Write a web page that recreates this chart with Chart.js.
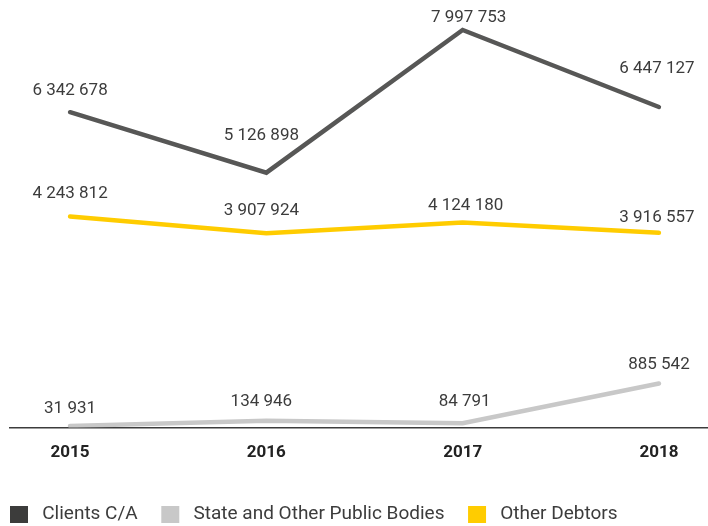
<!DOCTYPE html>
<html>
<head>
<meta charset="utf-8">
<script src="https://cdn.jsdelivr.net/npm/chart.js@4"></script>
<style>
  html, body { margin: 0; padding: 0; background: #fff; }
  #wrap { width: 708px; height: 526px; }
</style>
</head>
<body>
<div id="wrap"><canvas id="debtorsChart"></canvas></div>
<script>
const years = [2015, 2016, 2017, 2018];
const clientsCA = [6342678, 5126898, 7997753, 6447127];
const publicBodies = [31931, 134946, 84791, 885542];
const otherDebtors = [4243812, 3907924, 4124180, 3916557];

const fmt = (v) => String(v).replace(/\B(?=(\d{3})+(?!\d))/g, ' ');
const toPoints = (values) => values.map((v, i) => ({ x: years[i], y: v }));

// draws the value above each point
const valueLabels = {
    id: 'valueLabels',
    afterDatasetsDraw(chart) {
        const ctx = chart.ctx;
        ctx.save();
        ctx.font = '17px Roboto, "DejaVu Sans", sans-serif';
        ctx.fillStyle = '#3c3c3c';
        ctx.textAlign = 'center';
        ctx.textBaseline = 'middle';
        chart.data.datasets.forEach((ds, di) => {
            const meta = chart.getDatasetMeta(di);
            meta.data.forEach((pt, i) => {
                const dy = ds.labelOffsets ? ds.labelOffsets[i] : 20;
                const dx = ds.labelShifts ? ds.labelShifts[i] : 0;
                ctx.fillText(fmt(ds.data[i].y), pt.x + dx, pt.y - dy);
            });
        });
        ctx.restore();
    }
};

new Chart(document.getElementById('debtorsChart'), {
    type: 'line',
    data: {
        datasets: [
            {
                label: 'Clients C/A',
                data: toPoints(clientsCA),
                borderColor: '#575756',
                backgroundColor: '#3c3c3b',
                borderWidth: 4.5,
                labelOffsets: [21, 37, 12, 38],
                labelShifts: [0, -5, 6, -2]
            },
            {
                label: 'State and Other Public Bodies',
                data: toPoints(publicBodies),
                borderColor: '#c8c8c8',
                backgroundColor: '#c8c8c8',
                borderWidth: 4.5,
                labelOffsets: [17, 19, 22, 19],
                labelShifts: [0, -5, 2, 0]
            },
            {
                label: 'Other Debtors',
                data: toPoints(otherDebtors),
                borderColor: '#ffcc00',
                backgroundColor: '#ffcc00',
                borderWidth: 4.5,
                labelOffsets: [23, 22, 17, 15],
                labelShifts: [0, -5, 3, -2]
            }
        ]
    },
    options: {
        responsive: true,
        maintainAspectRatio: false,
        animation: false,
        layout: { padding: { left: 10, right: 0, top: 0, bottom: -8 } },
        elements: {
            point: { radius: 0, hoverRadius: 0 },
            line: { tension: 0, borderCapStyle: 'round', borderJoinStyle: 'miter' }
        },
        plugins: {
            tooltip: { enabled: false },
            legend: {
                position: 'bottom',
                align: 'start',
                labels: {
                    boxWidth: 18,
                    boxHeight: 17,
                    padding: 0,
                    color: '#3c3c3c',
                    font: { family: 'Roboto, "DejaVu Sans", sans-serif', size: 19 },
                    generateLabels(chart) {
                        const items = Chart.defaults.plugins.legend.labels.generateLabels(chart);
                        return items.map((it) => Object.assign(it, {
                            text: ' ' + it.text + '     ',
                            lineWidth: 0,
                            strokeStyle: 'rgba(0,0,0,0)'
                        }));
                    }
                }
            }
        },
        scales: {
            x: {
                type: 'linear',
                min: 2014.694,
                max: 2018.25,
                grid: { display: false, drawTicks: false },
                border: { display: true, color: '#3c3c3c', width: 1.5 },
                afterBuildTicks(axis) {
                    axis.ticks = years.map((y) => ({ value: y }));
                },
                afterFit(axis) {
                    axis.height = 77.5;
                },
                ticks: {
                    padding: 15,
                    color: '#222',
                    font: { family: 'Roboto, "DejaVu Sans", sans-serif', size: 17, weight: 'bold' },
                    callback: (v) => String(v)
                }
            },
            y: {
                display: false,
                min: 0,
                max: 8600000
            }
        }
    },
    plugins: [valueLabels]
});
</script>
</body>
</html>
